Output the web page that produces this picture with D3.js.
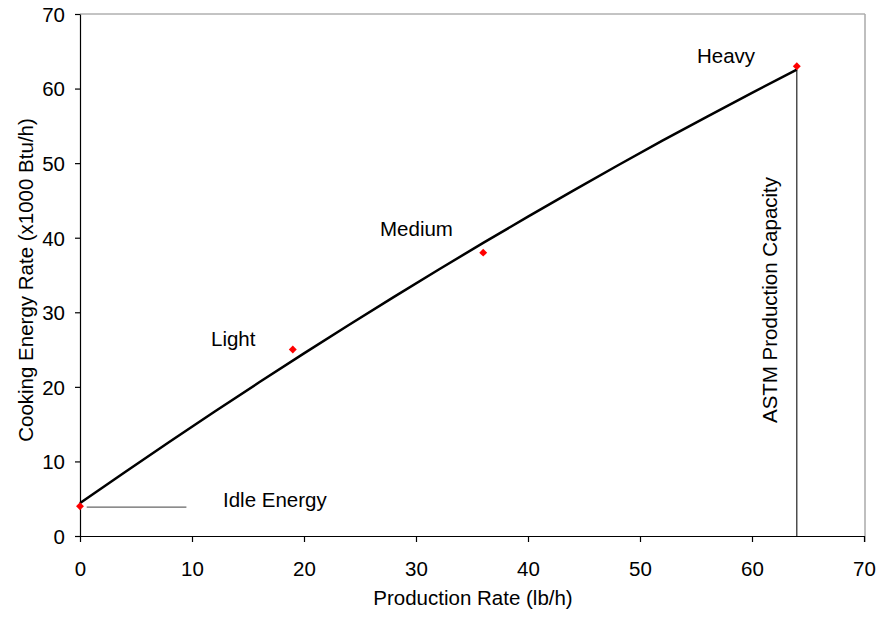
<!DOCTYPE html>
<html><head><meta charset="utf-8">
<script src="https://cdn.jsdelivr.net/npm/d3@7"></script>
<style>body{margin:0;background:#fff}svg{display:block}text{font-family:"Liberation Sans",Arial,sans-serif}</style>
</head><body><svg id="c" width="891" height="623"></svg>
<script>
const xTicks=[0,10,20,30,40,50,60,70];
const yTicks=[0,10,20,30,40,50,60,70];
const pointX=[0,19,36,64];
const pointY=[4,25,38,63];
const pointLabels=["Idle Energy","Light","Medium","Heavy"];
const curveX=[0,4,8,12,16,20,24,28,32,36,40,44,48,52,56,60,64];
const curveY=[4.4,8.56,12.64,16.67,20.61,24.49,28.29,32.03,35.71,39.3,42.83,46.29,49.68,53.01,56.25,59.43,62.54];
const idleLineX=[0.6,9.5];
const capacityX=64, capacityTop=62.6;

const FS=20.5;
const svg=d3.select("#c");
const L=80,R=864,T=14,B=536;
const x=d3.scaleLinear().domain([0,70]).range([L,R]);
const y=d3.scaleLinear().domain([0,70]).range([B,T]);

svg.append("line").attr("x1",L).attr("x2",R+1).attr("y1",T).attr("y2",T).attr("stroke","#888").attr("stroke-width",1);
svg.append("line").attr("x1",R+1).attr("x2",R+1).attr("y1",T).attr("y2",B+6).attr("stroke","#aaa").attr("stroke-width",1.5);

const xa=svg.append("g").attr("transform",`translate(0,${B})`).call(d3.axisBottom(x).tickValues(xTicks).tickSize(6).tickSizeOuter(0));
const ya=svg.append("g").attr("transform",`translate(${L},0)`).call(d3.axisLeft(y).tickValues(yTicks).tickSize(5).tickSizeOuter(0));
[xa,ya].forEach(a=>{a.selectAll("path,line").attr("stroke","#000").attr("stroke-width",1.2);a.selectAll("text").attr("font-size",FS).attr("fill","#000").attr("font-family","Liberation Sans, Arial, sans-serif");});
xa.selectAll("text").attr("dy",null).attr("y",40);
ya.selectAll("text").attr("x",-15).attr("dy","0.36em");

svg.append("line").attr("x1",x(idleLineX[0])).attr("x2",x(idleLineX[1])).attr("y1",y(pointY[0])+1).attr("y2",y(pointY[0])+1).attr("stroke","#666").attr("stroke-width",1.2);
svg.append("line").attr("x1",x(capacityX)).attr("x2",x(capacityX)).attr("y1",y(capacityTop)).attr("y2",B).attr("stroke","#222").attr("stroke-width",1.2);

svg.append("path").datum(curveX.map((v,i)=>[v,curveY[i]]))
 .attr("d",d3.line().x(d=>x(d[0])).y(d=>y(d[1])).curve(d3.curveMonotoneX))
 .attr("fill","none").attr("stroke","#000").attr("stroke-width",2.5);

svg.selectAll(".pt").data(pointX.map((v,i)=>[v,pointY[i]])).enter().append("path")
 .attr("d",d3.symbol().type(d3.symbolDiamond2).size(40))
 .attr("transform",d=>`translate(${x(d[0])},${y(d[1])})`).attr("fill","#f00");

const lab=[[223,507],[211,346],[380,236],[697,63]];
pointLabels.forEach((t,i)=>svg.append("text").attr("x",lab[i][0]).attr("y",lab[i][1]).attr("font-size",FS).text(t));
svg.append("text").attr("transform",`translate(777,300) rotate(-90)`).attr("text-anchor","middle").attr("font-size",FS).text("ASTM Production Capacity");

svg.append("text").attr("x",473).attr("y",605).attr("text-anchor","middle").attr("font-size",FS).text("Production Rate (lb/h)");
svg.append("text").attr("transform",`translate(33,280) rotate(-90)`).attr("text-anchor","middle").attr("font-size",FS).text("Cooking Energy Rate (x1000 Btu/h)");
</script></body></html>
